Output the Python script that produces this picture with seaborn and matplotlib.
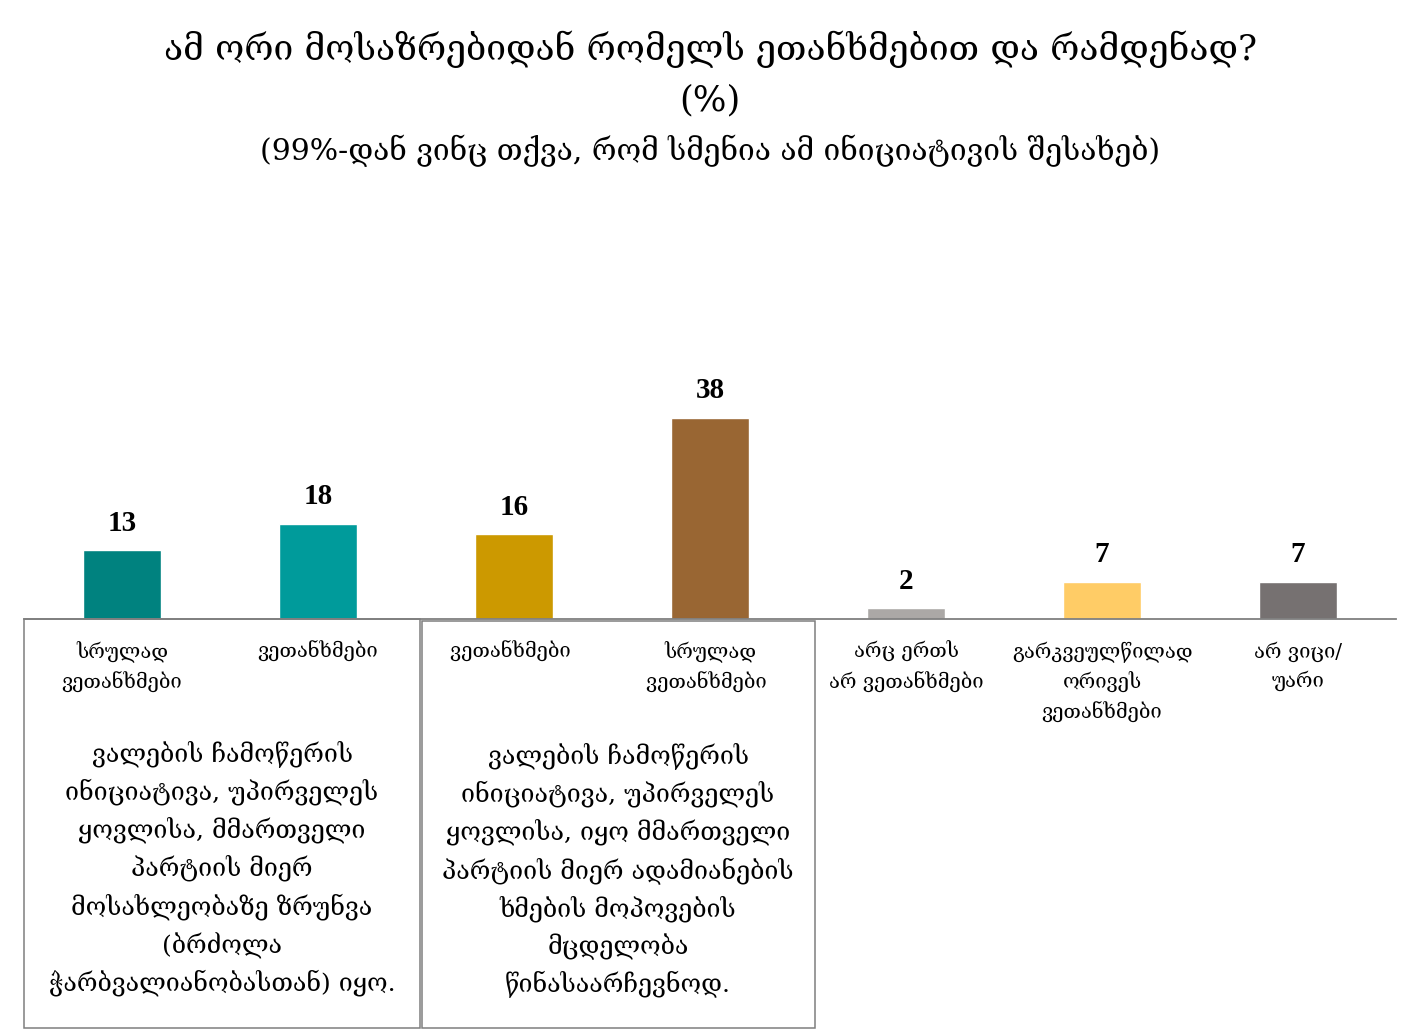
import seaborn as sns
import matplotlib.pyplot as plt
import pandas as pd
from matplotlib.patches import Rectangle

## data
categories = ["სრულად\nვეთანხმები", "ვეთანხმები", "ვეთანხმები ", "სრულად\nვეთანხმები ",
              "არც ერთს\nარ ვეთანხმები", "გარკვეულწილად\nორივეს\nვეთანხმები", "არ ვიცი/\nუარი"]
values = [13, 18, 16, 38, 2, 7, 7]
colors = ["#00827F", "#009B9B", "#CC9900", "#996633", "#ABA8A6", "#FFCC66", "#767171"]

title = "ამ ორი მოსაზრებიდან რომელს ეთანხმებით და რამდენად?\n(%)"
subtitle = "(99%-დან ვინც თქვა, რომ სმენია ამ ინიციატივის შესახებ)"
box_left = ("ვალების ჩამოწერის\nინიციატივა, უპირველეს\nყოვლისა, მმართველი\nპარტიის მიერ\n"
            "მოსახლეობაზე ზრუნვა\n(ბრძოლა\nჭარბვალიანობასთან) იყო.")
box_right = ("ვალების ჩამოწერის\nინიციატივა, უპირველეს\nყოვლისა, იყო მმართველი\nპარტიის მიერ ადამიანების\n"
             "ხმების მოპოვების\nმცდელობა\nწინასაარჩევნოდ.")

df = pd.DataFrame({"cat": categories, "val": values})

sns.set_theme(style="white")
plt.rcParams['font.family'] = ['DejaVu Serif', 'DejaVu Sans']
plt.rcParams['text.color'] = 'black'
plt.rcParams['xtick.color'] = 'black'

fig = plt.figure(figsize=(14.2, 10.31), dpi=100)
W, H = 1420, 1031
ax = fig.add_axes([24 / W, 1 - 619 / H, (1396 - 24) / W, 317 / H])

sns.barplot(data=df, x="cat", y="val", hue="cat", palette=colors, legend=False,
            width=0.4, ax=ax, saturation=1)
ax.set_xlim(-0.5, 6.5)
ax.set_ylim(0, 60)
ax.set_xlabel("")
ax.set_ylabel("")
ax.set_yticks([])
for s in ["top", "right", "left"]:
    ax.spines[s].set_visible(False)
ax.spines["bottom"].set_color("#7f7f7f")
ax.spines["bottom"].set_linewidth(1.3)
ax.tick_params(axis="x", length=0, pad=16, labelsize=14.5, labelcolor="black")
ax.set_xticks(range(len(categories)))
ax.set_xticklabels(categories, linespacing=1.55)

for i, v in enumerate(values):
    ax.text(i, v + 2.6, str(v), ha="center", va="bottom", fontsize=21,
            fontweight="bold", family="Liberation Serif", color="black")

fig.text(0.5, 1 - 74 / H, title, ha="center", va="center", fontsize=25.5, linespacing=1.6)
fig.text(0.5, 1 - 151 / H, subtitle, ha="center", va="center", fontsize=21.5)

# boxes
fig.patches.append(Rectangle((24 / W, 1 - 1028 / H), (420 - 24) / W, (1028 - 619) / H,
                             transform=fig.transFigure, fill=False, edgecolor="#7f7f7f", lw=1.1))
fig.patches.append(Rectangle((422 / W, 1 - 1028 / H), (815 - 422) / W, (1028 - 621) / H,
                             transform=fig.transFigure, fill=False, edgecolor="#7f7f7f", lw=1.1))
fig.text(222 / W, 1 - 868 / H, box_left, ha="center", va="center", fontsize=18, linespacing=1.55)
fig.text(618 / W, 1 - 870 / H, box_right, ha="center", va="center", fontsize=18, linespacing=1.55)

plt.savefig("out.png", dpi=100)
